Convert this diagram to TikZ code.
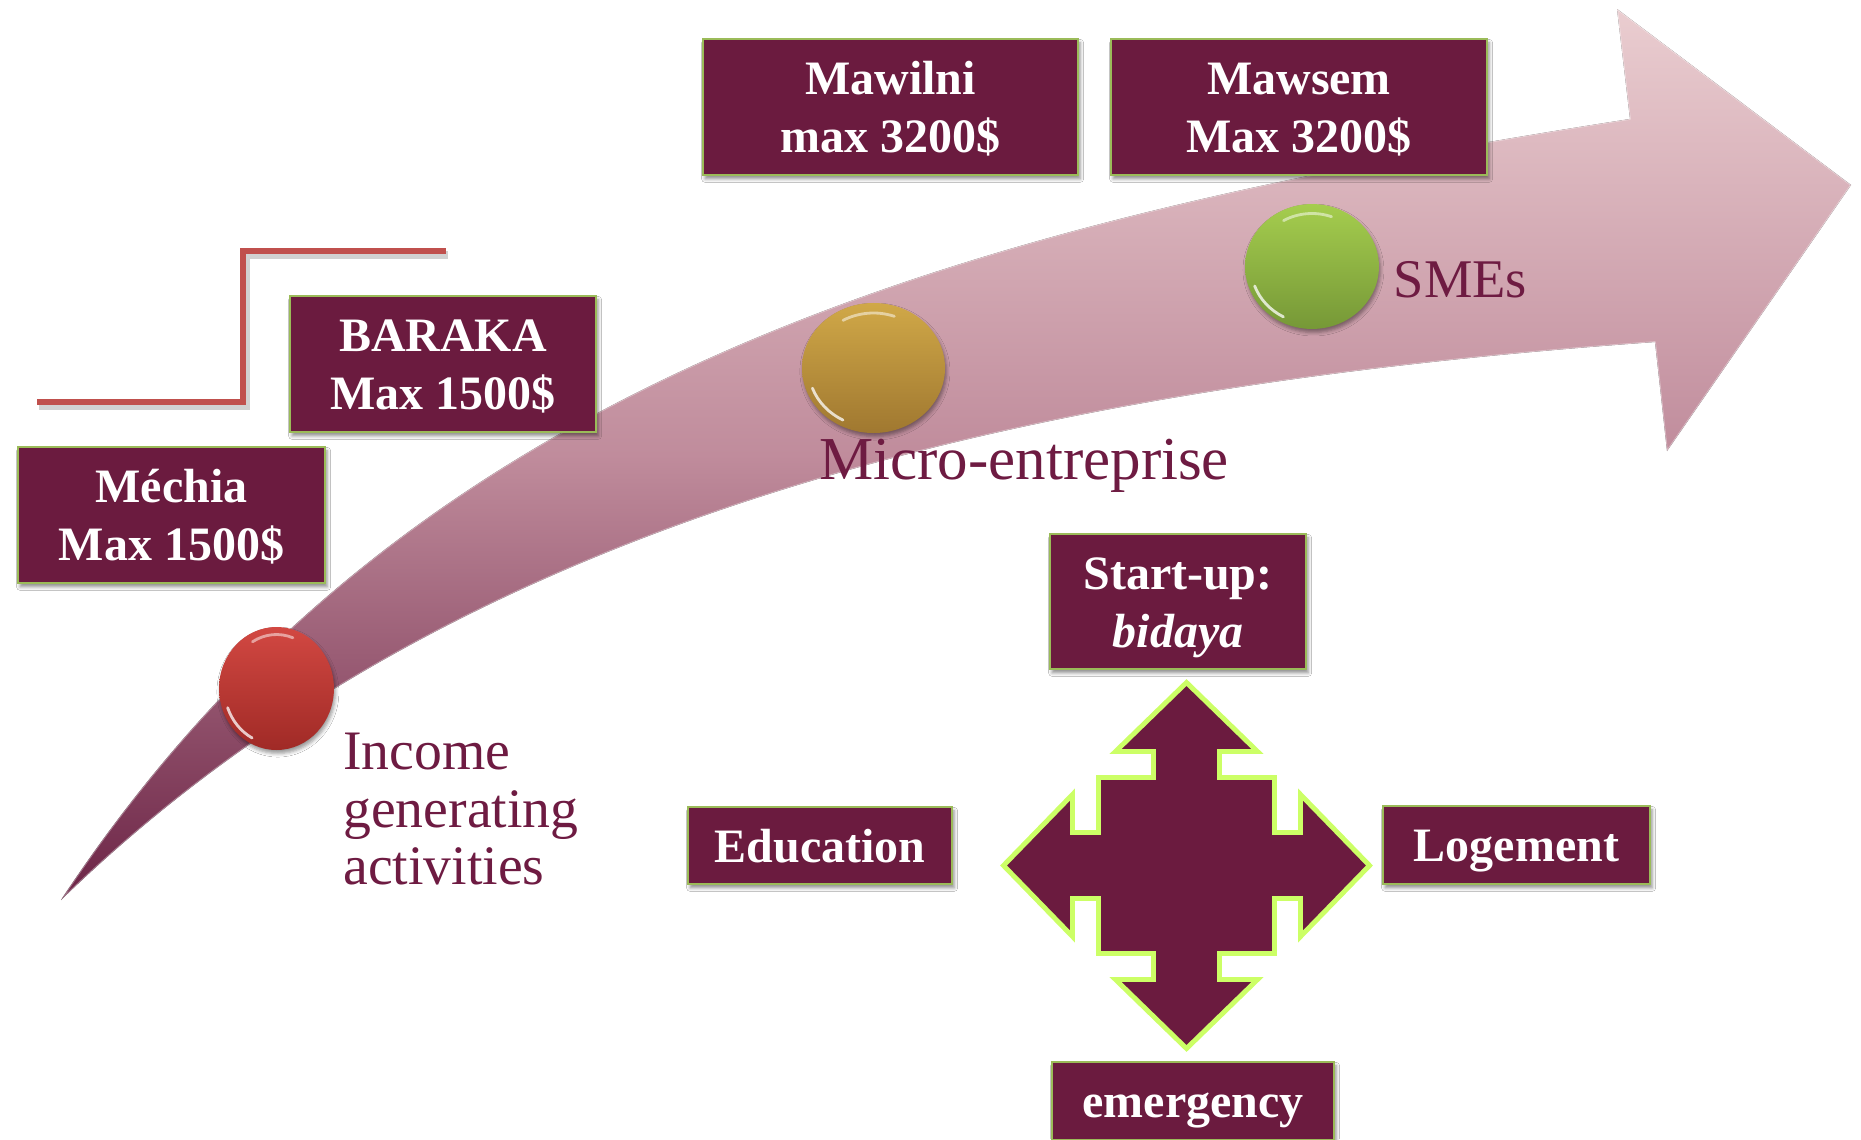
\documentclass[tikz,border=0pt]{standalone}
\usepackage{fontspec}
\setmainfont{Liberation Serif}
\usetikzlibrary{shapes.geometric,shadows.blur}

\definecolor{boxfill}{RGB}{107,27,63}
\definecolor{boxline}{RGB}{155,187,89}
\definecolor{quadline}{RGB}{204,255,102}
\definecolor{labeltext}{RGB}{110,27,66}
\definecolor{stepred}{RGB}{192,80,77}
\definecolor{bandDark}{RGB}{108,36,70}
\definecolor{bandMid}{RGB}{192,140,156}
\definecolor{bandLight}{RGB}{234,205,208}
\definecolor{redTop}{RGB}{210,72,66}
\definecolor{redBot}{RGB}{160,42,38}
\definecolor{goldTop}{RGB}{208,168,72}
\definecolor{goldBot}{RGB}{160,120,48}
\definecolor{greenTop}{RGB}{165,205,78}
\definecolor{greenBot}{RGB}{118,152,55}

% vertical shading of the growth band, dark at the tail, light at the head
\pgfdeclareverticalshading{bandshade}{100bp}{color(0bp)=(bandDark); color(25bp)=(bandDark); color(50bp)=(bandMid); color(75bp)=(bandLight); color(100bp)=(bandLight)}

\tikzset{
  infobox/.style={draw=boxline, line width=1.3pt, fill=boxfill, text=white,
    font=\fontsize{27.3}{33}\selectfont\bfseries, align=center, inner sep=0pt,
    text depth=0pt,
    blur shadow={shadow xshift=1.2pt, shadow yshift=-2.2pt, shadow blur radius=2pt, shadow opacity=45}},
  twoline/.style={infobox, text height=52.3pt},
  oneline/.style={infobox, text height=18.8pt},
  lbl/.style={text=labeltext, inner sep=0pt},
  dot/.style={ellipse, inner sep=0pt,
    blur shadow={shadow xshift=0.8pt, shadow yshift=-2pt, shadow blur radius=2pt, shadow opacity=40}},
  gloss/.style={white, line width=1.6pt, line cap=round, opacity=0.75},
  quadarrow/.style={fill=boxfill, draw=quadline, line width=2.8pt, line join=miter},
  stepline/.style={stepred, line width=3.7pt, line join=miter},
}

\begin{document}
\begin{tikzpicture}[x=0.02cm, y=-0.02cm]
  \useasboundingbox (0,0) rectangle (1861,1139);
  \fill[white] (0,0) rectangle (1861,1139);
  \clip (0,0) rectangle (1861,1139);

  % curved growth arrow
  \fill[shading=bandshade]
    (61,900) .. controls (400,385) and (938,226) .. (1630,119)
    -- (1617,9) -- (1851,185) -- (1667,451) -- (1655,342)
    .. controls (1057,385) and (470,503) .. (61,900) -- cycle;
  \draw[white, opacity=0.35, line width=1pt, line join=round]
    (61,900) .. controls (400,385) and (938,226) .. (1630,119)
    -- (1617,9) -- (1851,185) -- (1667,451) -- (1655,342)
    .. controls (1057,385) and (470,503) .. (61,900) -- cycle;

  % step line
  \draw[stepline, black, opacity=0.18, line width=4.5pt] (39,406) -- (246,406) -- (246,255) -- (448,255);
  \draw[stepline] (37,402) -- (243,402) -- (243,251) -- (446,251);

  % product boxes
  \node[twoline, minimum width=307*0.02cm, minimum height=136*0.02cm] (mechia)   at (171.5,515) {Méchia\\Max 1500\$};
  \node[twoline, minimum width=306*0.02cm, minimum height=136*0.02cm] (baraka)   at (443,364)   {BARAKA\\Max 1500\$};
  \node[twoline, minimum width=375*0.02cm, minimum height=136*0.02cm] (mawilni)  at (890.5,107) {Mawilni\\max 3200\$};
  \node[twoline, minimum width=376*0.02cm, minimum height=136*0.02cm] (mawsem)   at (1299,107)  {Mawsem\\Max 3200\$};
  \node[twoline, minimum width=256*0.02cm, minimum height=135*0.02cm] (startup)  at (1178,601.5) {Start-up:\\\textit{bidaya}};
  \node[oneline, minimum width=264*0.02cm, minimum height=77*0.02cm]  (education) at (820,845.5) {Education};
  \node[oneline, minimum width=267*0.02cm, minimum height=78*0.02cm]  (logement)  at (1516.5,845) {Logement};
  \node[oneline, minimum width=282*0.02cm, minimum height=78*0.02cm]  (emergency) at (1193,1101) {emergency};

  % stage markers
  \node[dot, minimum width=65.4pt, minimum height=70pt, top color=redTop, bottom color=redBot] (dotR) at (276.5,688.5) {};
  \node[dot, minimum width=81.4pt, minimum height=74pt, top color=goldTop, bottom color=goldBot] (dotY) at (873.5,368) {};
  \node[dot, minimum width=76.2pt, minimum height=71.1pt, top color=greenTop, bottom color=greenBot] (dotG) at (1312,266.5) {};

  \draw[gloss] (dotR.center) ++(118:52 and 56) arc[start angle=118, end angle=160, x radius=52, y radius=56];
  \draw[gloss, opacity=0.5] (dotR.center) ++(240:48 and 54) arc[start angle=240, end angle=290, x radius=48, y radius=54];
  \draw[gloss] (dotY.center) ++(118:65 and 59) arc[start angle=118, end angle=160, x radius=65, y radius=59];
  \draw[gloss, opacity=0.5] (dotY.center) ++(240:61 and 55) arc[start angle=240, end angle=290, x radius=61, y radius=55];
  \draw[gloss] (dotG.center) ++(118:61 and 57) arc[start angle=118, end angle=160, x radius=61, y radius=57];
  \draw[gloss, opacity=0.5] (dotG.center) ++(240:57 and 53) arc[start angle=240, end angle=290, x radius=57, y radius=53];

  % stage labels
  \node[lbl, anchor=north west, align=left, font=\fontsize{31.7}{32.7}\selectfont] (igaLabel) at (343,733) {Income\\generating\\activities};
  \node[lbl, anchor=base west, font=\fontsize{34.7}{40}\selectfont] (microLabel) at (819,479.5) {Micro-entreprise};
  \node[lbl, anchor=base west, font=\fontsize{31}{36}\selectfont] (smeLabel) at (1393.6,297) {SMEs};

  % four-way arrow
  \coordinate (hub) at (1186.5,865.5);
  \draw[quadarrow, shift={(hub)}]
    (0,-183) -- (71,-114) -- (33,-114) -- (33,-88) -- (88,-88) -- (88,-33)
    -- (114,-33) -- (114,-71) -- (183,0) -- (114,71) -- (114,33) -- (88,33)
    -- (88,88) -- (33,88) -- (33,114) -- (71,114) -- (0,183) -- (-71,114)
    -- (-33,114) -- (-33,88) -- (-88,88) -- (-88,33) -- (-114,33) -- (-114,71)
    -- (-183,0) -- (-114,-71) -- (-114,-33) -- (-88,-33) -- (-88,-88)
    -- (-33,-88) -- (-33,-114) -- (-71,-114) -- cycle;
\end{tikzpicture}
\end{document}
